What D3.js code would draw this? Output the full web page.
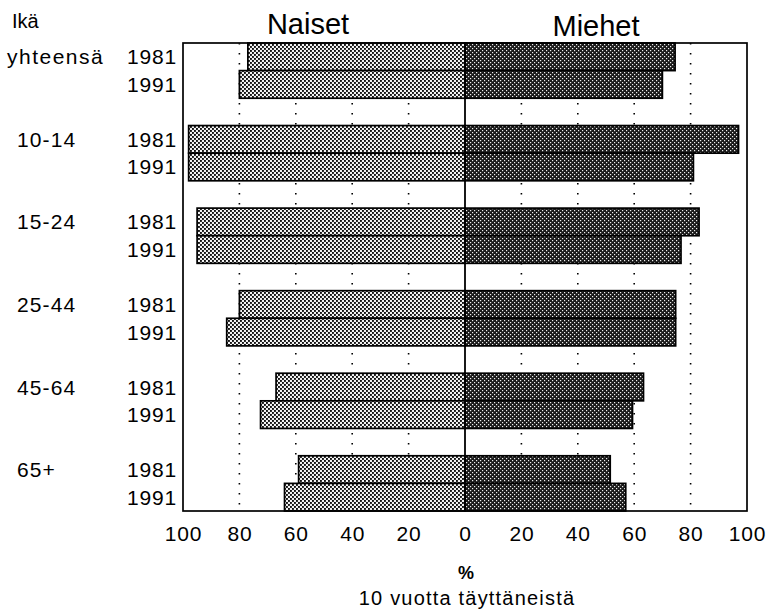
<!DOCTYPE html>
<html><head><meta charset="utf-8">
<script src="https://cdn.jsdelivr.net/npm/d3@7"></script>
<style>body{margin:0;background:#fff}text{font-family:"Liberation Sans",Arial,Helvetica,sans-serif;fill:#000}</style>
</head><body>
<script>
const groups = ["yhteensä","10-14","15-24","25-44","45-64","65+"];
const years = ["1981","1991"];
const women1981 = [77, 98, 95, 80, 67, 59];
const women1991 = [80, 98, 95, 84.5, 72.5, 64];
const men1981 = [74.5, 97, 83, 74.7, 63.3, 51.5];
const men1991 = [70, 81, 76.6, 74.7, 59.4, 57];
const ticks = [-100,-80,-60,-40,-20,0,20,40,60,80,100];
const gridVals = [-80,-60,-40,-20,20,40,60,80];

const W=766,H=616;
const svg=d3.select("body").append("svg").attr("width",W).attr("height",H);
const defs=svg.append("defs");
const pw=defs.append("pattern").attr("id","pw").attr("patternUnits","userSpaceOnUse").attr("width",4).attr("height",4);
pw.append("rect").attr("width",4).attr("height",4).attr("fill","#f2f2f2");
pw.append("rect").attr("x",0).attr("y",0).attr("width",1.9).attr("height",1.9).attr("fill","#111");
pw.append("rect").attr("x",2).attr("y",2).attr("width",1.9).attr("height",1.9).attr("fill","#111");
const pm=defs.append("pattern").attr("id","pm").attr("patternUnits","userSpaceOnUse").attr("width",4).attr("height",4);
pm.append("rect").attr("width",4).attr("height",4).attr("fill","#1a1a1a");
pm.append("rect").attr("x",0).attr("y",0).attr("width",1.2).attr("height",1.2).attr("fill","#eee");
pm.append("rect").attr("x",2).attr("y",2).attr("width",1.2).attr("height",1.2).attr("fill","#eee");

const x=d3.scaleLinear().domain([-100,100]).range([183,747]);
const y=d3.scaleBand().domain(groups).range([43,511]).paddingInner(0.331).paddingOuter(0);
const yy=d3.scaleBand().domain(years).range([0,y.bandwidth()]);

// grid
svg.append("g").selectAll("line").data(gridVals).join("line")
 .attr("x1",d=>x(d)).attr("x2",d=>x(d)).attr("y1",43).attr("y2",511)
 .attr("stroke","#000").attr("stroke-width",1.6).attr("stroke-dasharray","1.6 8.4");

const rows=[];
groups.forEach((g,i)=>{
  rows.push({g,yr:"1981",side:"w",v:women1981[i]});
  rows.push({g,yr:"1991",side:"w",v:women1991[i]});
  rows.push({g,yr:"1981",side:"m",v:men1981[i]});
  rows.push({g,yr:"1991",side:"m",v:men1991[i]});
});
svg.append("g").selectAll("rect").data(rows).join("rect")
 .attr("x",d=>d.side==="w"?x(-d.v):x(0))
 .attr("width",d=>d.side==="w"?x(0)-x(-d.v):x(d.v)-x(0))
 .attr("y",d=>y(d.g)+yy(d.yr))
 .attr("height",yy.bandwidth())
 .attr("fill",d=>d.side==="w"?"url(#pw)":"url(#pm)")
 .attr("stroke","#000").attr("stroke-width",1.7);

// center line and frame
svg.append("line").attr("x1",x(0)).attr("x2",x(0)).attr("y1",43).attr("y2",511).attr("stroke","#000").attr("stroke-width",1.8);
svg.append("rect").attr("x",183).attr("y",43).attr("width",564).attr("height",468).attr("fill","none").attr("stroke","#000").attr("stroke-width",1.7);

// x axis
const ax=svg.append("g").attr("transform","translate(0,511)")
 .call(d3.axisBottom(x).tickValues(ticks).tickSize(0).tickPadding(15).tickFormat(d=>Math.abs(d)));
ax.select(".domain").remove();
ax.selectAll("text").style("font-size","21px").style("letter-spacing","0.8px").style("font-family","'Liberation Sans',Arial,sans-serif").attr("fill","#000");

// y labels
svg.append("g").selectAll("text").data(rows.filter(r=>r.side==="w")).join("text")
 .attr("x",177).attr("y",d=>y(d.g)+yy(d.yr)+yy.bandwidth()/2+7.5)
 .attr("text-anchor","end").style("font-size","21px").style("letter-spacing","0.8px").text(d=>d.yr);
svg.append("g").selectAll("text").data(groups).join("text")
 .attr("x",(d,i)=>i===0?7:17).attr("y",d=>y(d)+yy.bandwidth()/2+7.5)
 .style("font-size","21px").style("letter-spacing",(d,i)=>i===0?"1.5px":"1.1px").text(d=>d);
svg.append("text").attr("x",12).attr("y",28).style("font-size","20px").text("Ikä");

// titles
svg.append("text").attr("x",308).attr("y",34).attr("text-anchor","middle").style("font-size","29px").text("Naiset");
svg.append("text").attr("x",596).attr("y",36).attr("text-anchor","middle").style("font-size","29px").text("Miehet");

// bottom labels
svg.append("text").attr("x",466).attr("y",579).attr("text-anchor","middle").style("font-size","18px").style("font-weight","bold").text("%");
svg.append("text").attr("x",467).attr("y",605).attr("text-anchor","middle").style("font-size","20px").style("letter-spacing","1.2px").text("10 vuotta täyttäneistä");
</script>
</body></html>
